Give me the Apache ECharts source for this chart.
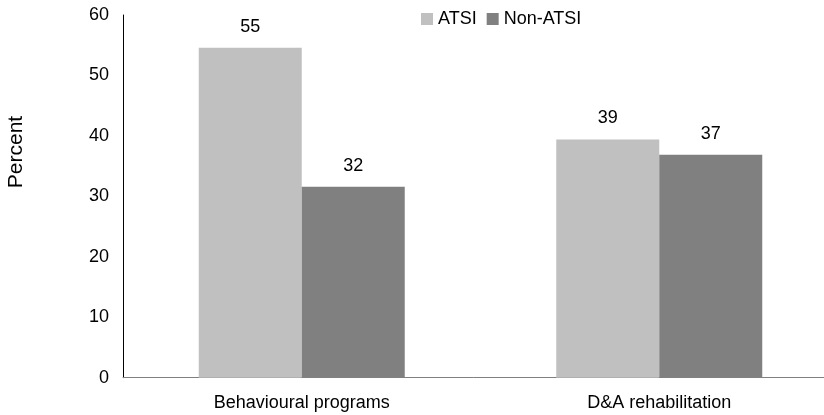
<!DOCTYPE html>
<html>
<head>
<meta charset="utf-8">
<script src="https://cdn.jsdelivr.net/npm/echarts@6/dist/echarts.min.js"></script>
<style>
html,body{margin:0;padding:0;background:#fff;}
#chart{width:824px;height:415px;}
</style>
</head>
<body>
<div id="chart"></div>
<script>
var categories = ['Behavioural programs', 'D&A rehabilitation'];
var seriesNames = ['ATSI', 'Non-ATSI'];
var atsiValues = [54.6, 39.4];
var nonAtsiValues = [31.6, 36.9];
var yTicks = [0, 10, 20, 30, 40, 50, 60];
var yAxisTitle = 'Percent';

var FONT = 'Liberation Sans, Arial, sans-serif';
var chart = echarts.init(document.getElementById('chart'), null, {renderer: 'canvas'});
function barSeries(name, data, color) {
  return {
    name: name,
    type: 'bar',
    data: data,
    barWidth: 103,
    barGap: '0%',
    itemStyle: {color: color},
    label: {
      show: true,
      position: 'top',
      distance: 12,
      color: '#000',
      fontFamily: FONT,
      fontSize: 18,
      formatter: function (p) { return Math.round(p.value); }
    },
    emphasis: {disabled: true},
    animation: false
  };
}
chart.setOption({
  animation: false,
  backgroundColor: '#fff',
  grid: {left: 123, width: 715, top: 15, height: 362.7, containLabel: false, outerBoundsMode: 'none'},
  legend: {
    data: seriesNames,
    top: 5,
    left: 416,
    itemWidth: 12,
    itemHeight: 12,
    itemGap: 10,
    icon: 'rect',
    textStyle: {fontFamily: FONT, fontSize: 18, color: '#000'},
    selectedMode: false
  },
  xAxis: {
    type: 'category',
    data: categories,
    axisLine: {lineStyle: {color: '#808080', width: 1}},
    axisTick: {show: false},
    axisLabel: {color: '#000', fontFamily: FONT, fontSize: 18, margin: 16}
  },
  yAxis: {
    type: 'value',
    min: yTicks[0],
    max: yTicks[yTicks.length - 1],
    interval: 10,
    axisLine: {show: true, lineStyle: {color: '#000', width: 1}},
    axisTick: {show: false},
    splitLine: {show: false},
    axisLabel: {color: '#000', fontFamily: FONT, fontSize: 18, margin: 14}
  },
  graphic: [{
    type: 'text',
    x: 16,
    y: 152,
    rotation: Math.PI / 2,
    style: {
      text: yAxisTitle,
      fontFamily: FONT,
      fontSize: 21,
      fill: '#000',
      align: 'center',
      verticalAlign: 'middle'
    }
  }],
  series: [
    barSeries(seriesNames[0], atsiValues, '#C0C0C0'),
    barSeries(seriesNames[1], nonAtsiValues, '#808080')
  ]
});
</script>
</body>
</html>
